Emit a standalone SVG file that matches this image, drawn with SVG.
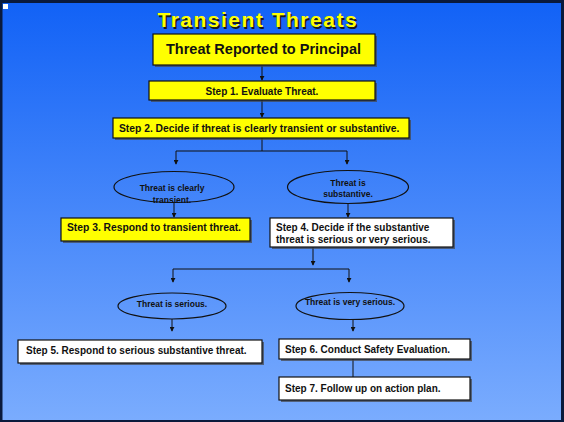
<svg xmlns="http://www.w3.org/2000/svg" width="564" height="422" viewBox="0 0 564 422">
<defs>
<linearGradient id="bg" x1="0" y1="0" x2="0" y2="1">
<stop offset="0" stop-color="#1262f6"/>
<stop offset="1" stop-color="#7aacfe"/>
</linearGradient>
<marker id="ah2" viewBox="0 0 6 6" refX="3" refY="5" markerWidth="5" markerHeight="5" orient="0" markerUnits="userSpaceOnUse">
<path d="M0,0 L6,0 L3,6 z" fill="#111"/>
</marker>
</defs>
<style>
.box{stroke:#111;stroke-width:1.2}
.y{fill:#ffff00}
.w{fill:#ffffff}
.sh{fill:#444;opacity:0.7}
.ell{fill:none;stroke:#111;stroke-width:1.2}
.t{font-family:"Liberation Sans",Arial,sans-serif;font-weight:bold;fill:#111}
.ttl{font-family:"Liberation Sans",Arial,sans-serif;font-weight:bold;font-size:21px;letter-spacing:1.5px}
.c{stroke:#111;stroke-width:1;fill:none}
.a{marker-end:url(#ah2)}
</style>
<rect x="0" y="0" width="564" height="422" fill="#0a1a3c"/>
<rect x="2.5" y="3" width="558.5" height="417" fill="url(#bg)"/>
<rect x="3" y="4" width="5" height="5" fill="#ffffff"/>
<g id="title">
<text class="ttl" x="159" y="28.5" fill="#1a1a1a">Transient Threats</text>
<text class="ttl" x="157.5" y="27" fill="#ffff00">Transient Threats</text>
</g>
<g id="connectors">
<path class="c a" d="M262,66 V80"/>
<path class="c a" d="M262,100 V117"/>
<path class="c" d="M262,138 V151 M176,151 H347"/>
<path class="c a" d="M176,151 V164"/>
<path class="c a" d="M347,151 V164"/>
<path class="c a" d="M174,203 V217"/>
<path class="c a" d="M348,203 V217"/>
<path class="c a" d="M313,247 V265"/>
<path class="c" d="M173,269 H349"/>
<path class="c a" d="M173,269 V282"/>
<path class="c a" d="M349,269 V282"/>
<path class="c a" d="M172,319 V331"/>
<path class="c a" d="M353,320 V331"/>
<path class="c" d="M353,359 V377"/>
</g>
<g id="principal">
<rect class="sh" x="155" y="36" width="222" height="31"/>
<rect class="box y" x="153" y="34" width="222" height="31"/>
<text class="t" x="166" y="54" font-size="15.5" textLength="195" lengthAdjust="spacingAndGlyphs">Threat Reported to Principal</text>
</g>
<g id="step1">
<rect class="sh" x="151" y="83" width="226" height="19"/>
<rect class="box y" x="149" y="81" width="226" height="19"/>
<text class="t" x="262" y="95" text-anchor="middle" font-size="10">Step 1. Evaluate Threat.</text>
</g>
<g id="step2">
<rect class="sh" x="115" y="120" width="296" height="20"/>
<rect class="box y" x="113" y="118" width="296" height="20"/>
<text class="t" x="119" y="132" font-size="10.3">Step 2. Decide if threat is clearly transient or substantive.</text>
</g>
<g id="transient">
<ellipse class="ell" cx="174" cy="187" rx="60" ry="15.5"/>
<text class="t" x="172" y="191" text-anchor="middle" font-size="8.5">Threat is clearly</text>
<text class="t" x="172" y="203" text-anchor="middle" font-size="8.5">transient.</text>
</g>
<g id="substantive">
<ellipse class="ell" cx="348" cy="187" rx="60.5" ry="16.5"/>
<text class="t" x="348" y="186" text-anchor="middle" font-size="8.5">Threat is</text>
<text class="t" x="348" y="197" text-anchor="middle" font-size="8.5">substantive.</text>
</g>
<g id="step3">
<rect class="sh" x="63" y="220" width="189" height="23"/>
<rect class="box y" x="61" y="218" width="189" height="23"/>
<text class="t" x="67" y="231" font-size="10.3">Step 3. Respond to transient threat.</text>
</g>
<g id="step4">
<rect class="sh" x="272" y="220" width="183" height="29"/>
<rect class="box w" x="270" y="218" width="183" height="29"/>
<text class="t" x="276" y="231" font-size="10">Step 4. Decide if the substantive</text>
<text class="t" x="276" y="242.5" font-size="10">threat is serious or very serious.</text>
</g>
<g id="serious">
<ellipse class="ell" cx="172" cy="306" rx="54" ry="13"/>
<text class="t" x="172" y="307" text-anchor="middle" font-size="8.5">Threat is serious.</text>
</g>
<g id="veryserious">
<ellipse class="ell" cx="350" cy="306" rx="54" ry="13.5"/>
<text class="t" x="350" y="305" text-anchor="middle" font-size="8.5">Threat is very serious.</text>
</g>
<g id="step5">
<rect class="sh" x="20" y="342" width="244" height="23"/>
<rect class="box w" x="18" y="340" width="244" height="23"/>
<text class="t" x="26" y="353.5" font-size="10">Step 5. Respond to serious substantive threat.</text>
</g>
<g id="step6">
<rect class="sh" x="281" y="341" width="191" height="20"/>
<rect class="box w" x="279" y="339" width="191" height="20"/>
<text class="t" x="285" y="353" font-size="10">Step 6. Conduct Safety Evaluation.</text>
</g>
<g id="step7">
<rect class="sh" x="281" y="379" width="191" height="23"/>
<rect class="box w" x="279" y="377" width="191" height="23"/>
<text class="t" x="285" y="391.5" font-size="10">Step 7. Follow up on action plan.</text>
</g>
</svg>
